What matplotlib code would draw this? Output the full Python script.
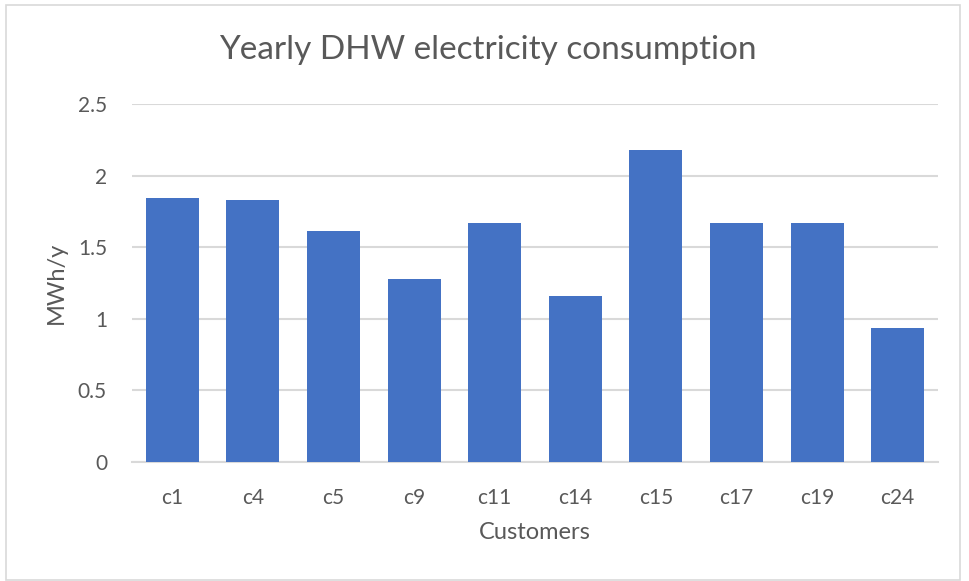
import matplotlib
matplotlib.use("Agg")
import matplotlib.pyplot as plt
import matplotlib.patches as patches

plt.rcParams['font.family'] = ['Lato', 'DejaVu Sans']

customers = ["c1", "c4", "c5", "c9", "c11", "c14", "c15", "c17", "c19", "c24"]
consumption = [1.845, 1.83, 1.613, 1.276, 1.667, 1.16, 2.177, 1.667, 1.667, 0.934]
y_ticks = [0, 0.5, 1, 1.5, 2, 2.5]
y_tick_labels = ["0", "0.5", "1", "1.5", "2", "2.5"]

bar_color = "#4472C4"
grid_color = "#d9d9d9"
text_color = "#595959"

W, H = 969, 581
fig = plt.figure(figsize=(W / 100, H / 100), dpi=100)
fig.patch.set_facecolor("white")

# outer chart border
fig.add_artist(patches.Rectangle((6 / W, 1 / H), 954 / W, 575 / H, transform=fig.transFigure,
                                 fill=False, edgecolor=grid_color, linewidth=1.2))

ax = fig.add_axes([132 / W, (H - 462) / H, (938 - 132) / W, (462 - 104) / H])
x = range(len(customers))
ax.bar(x, consumption, width=0.66, color=bar_color, zorder=3)

ax.set_xlim(-0.5, len(customers) - 0.5)
ax.set_ylim(0, 2.5)
ax.set_yticks(y_ticks)
ax.set_yticklabels(y_tick_labels)
ax.set_xticks(list(x))
ax.set_xticklabels(customers)
ax.grid(axis="y", color=grid_color, linewidth=1.5, zorder=0)
ax.tick_params(length=0, labelsize=15, colors=text_color)
ax.tick_params(axis="y", pad=18)
ax.tick_params(axis="x", pad=19)
for side in ["top", "right", "left"]:
    ax.spines[side].set_visible(False)
ax.spines["bottom"].set_color(grid_color)
ax.spines["bottom"].set_linewidth(1.5)

ax.set_xlabel("Customers", fontsize=17, color=text_color, labelpad=10)
ax.set_ylabel("MWh/y", fontsize=17, color=text_color, labelpad=8)
fig.text(488 / W, 1 - 50 / H, "Yearly DHW electricity consumption", fontsize=24,
         color=text_color, ha="center", va="center")

fig.savefig("out.png", dpi=100)
